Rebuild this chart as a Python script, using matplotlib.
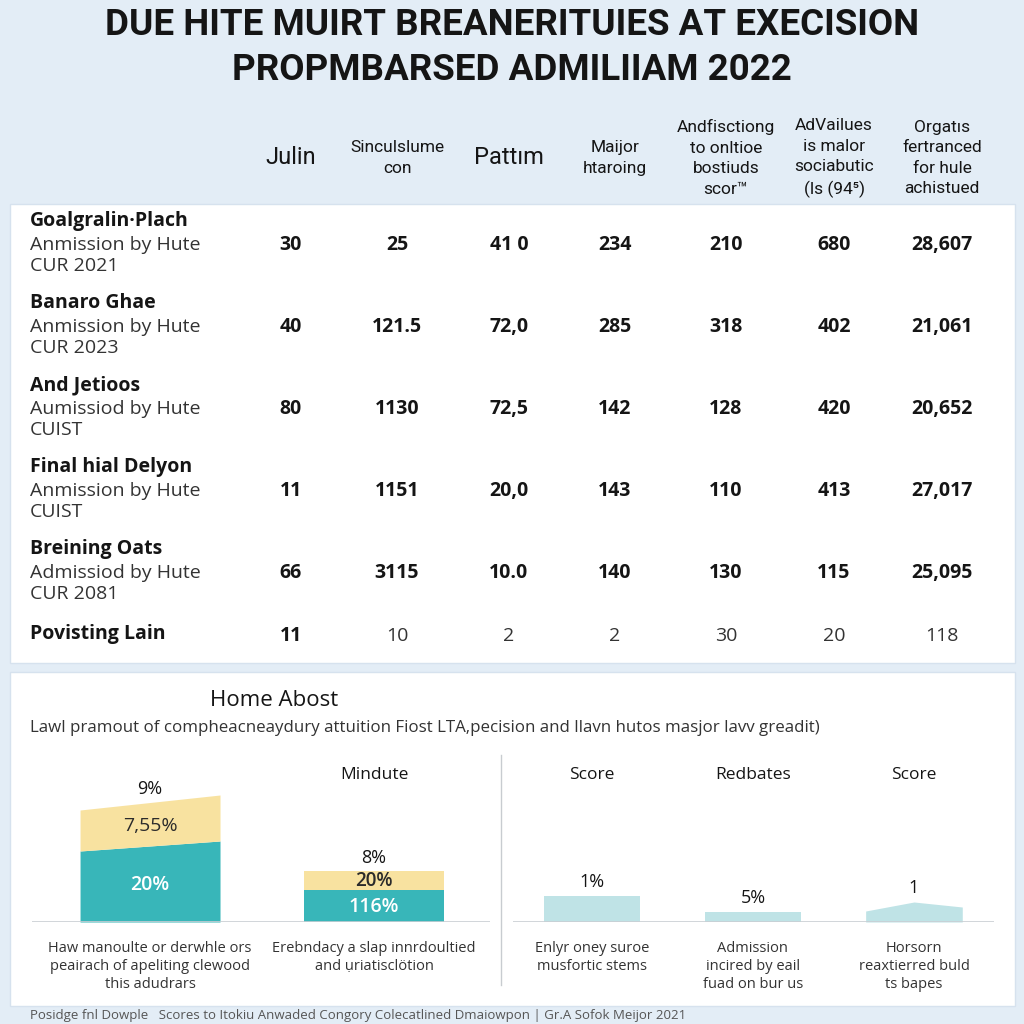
#!/usr/bin/env python3
"""Admissions summary board: header table plus two small bar panels."""
import numpy as np
import matplotlib
matplotlib.use('Agg')
import matplotlib.pyplot as plt
from matplotlib import font_manager
from matplotlib.patches import Rectangle

have = {f.name for f in font_manager.fontManager.ttflist}
NARROW = [f for f in ['Liberation Sans Narrow', 'Roboto', 'DejaVu Sans'] if f in have] + ['DejaVu Sans']
BODY = [f for f in ['Open Sans', 'Noto Sans', 'DejaVu Sans'] if f in have] + ['DejaVu Sans']

TITLE = ['DUE HITE MUIRT BREANERITUIES AT EXECISION', 'PROPMBARSED ADMILIIAM 2022']
COLS = ['Julin', 'Sinculslume\ncon', 'Pattım', 'Maijor\nhtaroing',
        'Andfisctiong\nto onltioe\nbostiuds\nscor\u2122',
        'AdVailues\nis malor\nsociabutic\n(ls (94\u2075)',
        'Orgatıs\nfertranced\nfor hule\nachistued']
ROW_NAMES = ['Goalgralin·Plach', 'Banaro Ghae', 'And Jetioos', 'Final hial Delyon',
             'Breining Oats', 'Povisting Lain']
ROW_SUBS = ['Anmission by Hute\nCUR 2021', 'Anmission by Hute\nCUR 2023',
            'Aumissiod by Hute\nCUIST', 'Anmission by Hute\nCUIST',
            'Admissiod by Hute\nCUR 2081', '']
VALUES = [['30', '25', '41 0', '234', '210', '680', '28,607'],
          ['40', '121.5', '72,0', '285', '318', '402', '21,061'],
          ['80', '1130', '72,5', '142', '128', '420', '20,652'],
          ['11', '1151', '20,0', '143', '110', '413', '27,017'],
          ['66', '3115', '10.0', '140', '130', '115', '25,095'],
          ['11', '10', '2', '2', '30', '20', '118']]

PANEL_TITLE = 'Home Abost'
PANEL_SUB = 'Lawl pramout of compheacneaydury attuition Fiost LTA,pecision and llavn hutos masjor lavv greadit)'
# left panel: stacked bars, left/right edge heights (tops slope slightly)
L_TEAL = [(71, 81), (32, 32)]
L_TOTAL = [(112, 127), (51, 51)]
L_LABELS = [('9%', '7,55%', '20%'), ('8%', '20%', '116%')]
L_HEADS = ['', 'Mindute']
L_CAPS = ['Haw manoulte or derwhle ors\npeairach of apeliting clewood\nthis adudrars',
          'Erebndacy a slap innrdoultied\nand ụriatisclötion']
# right panel: single pale bars (left, middle, right heights)
R_VALS = [(26, 26, 26), (10, 10, 10), (11, 20, 15)]
R_LABELS = ['1%', '5%', '1']
R_HEADS = ['Score', 'Redbates', 'Score']
R_CAPS = ['Enlyr oney suroe\nmusfortic stems', 'Admission\nincired by eail\nfuad on bur us',
          'Horsorn\nreaxtierred buld\nts bapes']
FOOTER = 'Posidge fnl Dowple   Scores to Itokiu Anwaded Congory Colecatlined Dmaiowpon | Gr.A Sofok Meijor 2021'

BG, INK, INK2 = '#e3edf6', '#151515', '#333333'
TEAL, YELLOW, PALE = '#38b6b9', '#f8e2a0', '#bfe3e6'

fig = plt.figure(figsize=(10.24, 10.24), dpi=100, facecolor=BG)
W = H = 1024.0
def P(x, y): return x / W, 1 - y / H
def box(x0, y0, x1, y1): return [x0 / W, 1 - y1 / H, (x1 - x0) / W, (y1 - y0) / H]

# white panels
for y0, y1 in [(204, 663), (672, 1006)]:
    fig.patches.append(Rectangle(P(10, y1), 1005 / W, (y1 - y0) / H, transform=fig.transFigure,
                                 facecolor='white', edgecolor='#d6e2ee', lw=1.0, zorder=-5))

for i, t in enumerate(TITLE):
    fig.text(*P(512, 25 + 45 * i), t, ha='center', va='center', fontsize=26.5,
             fontweight='bold', family=NARROW, color=INK)

XC = [291, 397, 509, 615, 726, 834, 942]
for x, c in zip(XC, COLS):
    big = '\n' not in c
    fig.text(*P(x, 158), c, ha='center', va='center', fontsize=17 if big else 12.5,
             family=NARROW, color=INK, linespacing=1.45)

for i, (name, sub, vals) in enumerate(zip(ROW_NAMES, ROW_SUBS, VALUES)):
    y = 221 + 82 * i
    last = sub == ''
    if last:
        y = 634
    fig.text(*P(30, y), name, ha='left', va='center', fontsize=14, fontweight='bold',
             family=BODY, color=INK)
    if sub:
        fig.text(*P(30, y + 15), sub, ha='left', va='top', fontsize=14, family=BODY,
                 color=INK2, linespacing=1.22)
    vy = 636 if last else y + 24
    for j, (x, v) in enumerate(zip(XC, vals)):
        bold = (not last) or j == 0
        fig.text(*P(x, vy), v, ha='center', va='center', fontsize=14, family=BODY,
                 fontweight='bold' if bold else 'normal', color=INK if bold else INK2)

fig.text(*P(274, 700), PANEL_TITLE, ha='center', va='center', fontsize=16, family=BODY, color=INK)
fig.text(*P(30, 728), PANEL_SUB, ha='left', va='center', fontsize=12.2, family=BODY, color=INK2)

# left chart
axl = fig.add_axes(box(32, 762, 490, 922))
axl.set_xlim(-0.527, 1.518); axl.set_ylim(0, 160); axl.axis('off')
axl.axhline(0, color='#c9ced3', lw=1.2)
w = 0.625
for i in range(len(L_TEAL)):
    xs = [i - w / 2, i + w / 2]
    axl.fill_between(xs, 0, L_TEAL[i], color=TEAL, lw=0)
    axl.fill_between(xs, L_TEAL[i], L_TOTAL[i], color=YELLOW, lw=0)
    top = np.mean(L_TOTAL[i]); tl = np.mean(L_TEAL[i])
    t1, t2, t3 = L_LABELS[i]
    axl.text(i, top + 4, t1, ha='center', va='bottom', fontsize=13, family=BODY, color=INK)
    axl.text(i, (tl + top) / 2 - (2 if i == 0 else 0), t2, ha='center', va='center',
             fontsize=14 if i == 0 else 13.5, family=BODY, color='#2b2b2b',
             fontweight='semibold' if i == 1 else 'normal')
    axl.text(i, tl / 2 - 1, t3, ha='center', va='center', fontsize=14,
             family=BODY, color='white', fontweight='semibold')
    if L_HEADS[i]:
        axl.text(i, 147, L_HEADS[i], ha='center', va='center', fontsize=12.5, family=BODY, color=INK)
    axl.text(i, -19, L_CAPS[i], ha='center', va='top', fontsize=10.5, family=BODY,
             color=INK2, linespacing=1.25, clip_on=False)

fig.add_artist(plt.Line2D([501 / W] * 2, [1 - 755 / H, 1 - 985 / H], color='#c8ccd0', lw=1.0))

# right chart
axr = fig.add_axes(box(513, 762, 994, 922))
axr.set_xlim(-0.49, 2.497); axr.set_ylim(0, 160); axr.axis('off')
axr.axhline(0, color='#c9ced3', lw=1.2)
w = 0.6
for i, v in enumerate(R_VALS):
    axr.fill_between([i - w / 2, i, i + w / 2], 0, v, color=PALE, lw=0)
    axr.text(i, max(v) + 5, R_LABELS[i], ha='center', va='bottom', fontsize=13,
             family=BODY, color=INK)
    axr.text(i, 147, R_HEADS[i], ha='center', va='center', fontsize=12.5, family=BODY, color=INK)
    axr.text(i, -19, R_CAPS[i], ha='center', va='top', fontsize=10.5, family=BODY,
             color=INK2, linespacing=1.25)

fig.text(*P(30, 1015), FOOTER, ha='left', va='center', fontsize=9.5, family=BODY, color='#555555')

fig.savefig('out.png', dpi=100, facecolor=BG)
